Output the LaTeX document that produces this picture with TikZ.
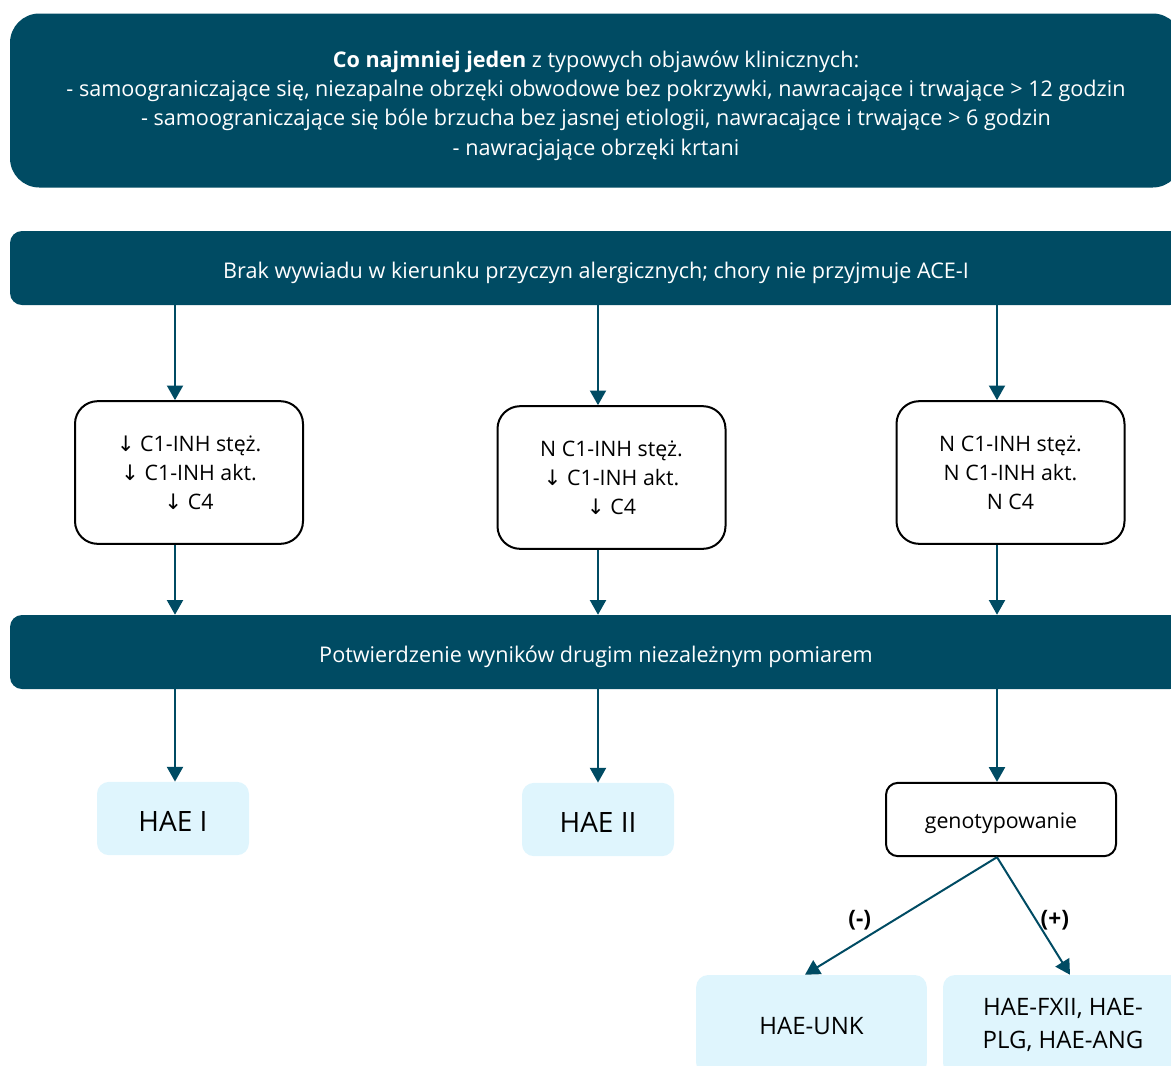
\documentclass[tikz,border=0pt]{standalone}
\usepackage{fontspec}
\setmainfont{Open Sans}
\newfontfamily\arrowfont{DejaVu Sans}
\newcommand\dn{{\arrowfont ↓}}
\usetikzlibrary{arrows.meta}

\definecolor{hteal}{HTML}{004B63}
\definecolor{hlight}{HTML}{DFF5FD}

\begin{document}
\begin{tikzpicture}[x=0.75pt,y=-0.75pt,
    lowered/.style={execute at begin node={\rule{0pt}{#1}}},
    bar/.style={fill=hteal, text=white, rounded corners=9pt, minimum width=879pt,
      minimum height=55.5pt, inner sep=0pt, align=center,
      font=\fontsize{16.2}{21.9}\selectfont},
    labbox/.style={draw=black, line width=1.5pt, rounded corners=17pt, fill=white,
      minimum width=171pt, minimum height=107pt, inner sep=0pt, align=center,
      font=\fontsize{16}{21.9}\selectfont},
    hae/.style={fill=hlight, rounded corners=9pt, minimum width=114pt,
      minimum height=55pt, inner sep=0pt, align=center,
      font=\fontsize{21}{24}\selectfont},
    arr/.style={draw=hteal, line width=1.5pt, -{Triangle[length=11pt,width=12pt]}},
    sign/.style={yshift=-3pt, font=\bfseries\fontsize{17}{20}\selectfont}]
    % frame
    \useasboundingbox (0,0) rectangle (1171,1065);
    \clip (0,0) rectangle (1171,1065);

    % headers
    \node[bar, rounded corners=22pt, minimum height=130.5pt] (objawy) at (596,100.5)
      {\rule{0pt}{20pt}\textbf{Co najmniej jeden} z typowych objawów klinicznych:\\
       - samoograniczające się, niezapalne obrzęki obwodowe bez pokrzywki, nawracające i trwające > 12 godzin\\
       - samoograniczające się bóle brzucha bez jasnej etiologii, nawracające i trwające > 6 godzin\\
       - nawracjające obrzęki krtani};
    \node[bar, lowered=19pt] (wywiad) at (596,268)
      {Brak wywiadu w kierunku przyczyn alergicznych; chory nie przyjmuje ACE-I};
    \node[bar, lowered=19pt] (pomiar) at (596,652)
      {Potwierdzenie wyników drugim niezależnym pomiarem};

    % columns
    \coordinate (k1) at (175,0);
    \coordinate (k2) at (598,0);
    \coordinate (k3) at (997,0);

    % lab results
    \node[labbox, lowered=19pt] (lab1) at (189,472.5)
      {\dn\ C1-INH stęż.\\ \dn\ C1-INH akt.\\ \dn\ C4};
    \node[labbox, lowered=19pt] (lab2) at (611.5,477.5)
      {N C1-INH stęż.\\ \dn\ C1-INH akt.\\ \dn\ C4};
    \node[labbox, lowered=19pt] (lab3) at (1010.5,472.5)
      {N C1-INH stęż.\\ N C1-INH akt.\\ N C4};

    % outcomes
    \node[hae, lowered=18.8pt] (hae1) at (173,818.5) {HAE I};
    \node[hae, lowered=18.8pt] (hae2) at (598,819.5) {HAE II};
    \node[labbox, rounded corners=9pt, minimum width=172.5pt, minimum height=55pt,
      lowered=17pt, font=\fontsize{16}{18}\selectfont] (geno) at (1001,819.5) {genotypowanie};
    \node[hae, lowered=14.3pt, minimum width=173pt, minimum height=75pt,
      font=\fontsize{18}{24.5}\selectfont] (unk) at (811.5,1025) {HAE-UNK};
    \node[hae, lowered=21.8pt, minimum width=180pt, minimum height=75pt,
      font=\fontsize{18}{24.5}\selectfont] (fxii) at (1063,1025) {HAE-FXII, HAE-\\PLG, HAE-ANG};

    % arrows
    \foreach \k/\l in {k1/lab1, k2/lab2, k3/lab3} {
      \draw[arr] (wywiad.south -| \k) -- (\l.north -| \k);
      \draw[arr] (\l.south -| \k) -- (pomiar.north -| \k);
    }
    \draw[arr] (pomiar.south -| k1) -- (hae1.north -| k1);
    \draw[arr] (pomiar.south -| k2) -- (hae2.north -| k2);
    \draw[arr] (pomiar.south -| k3) -- (geno.north -| k3);

    \coordinate (g) at (geno.south -| k3);
    \draw[arr] (g) -- node[sign, xshift=-31pt] {(-)} (unk.north -| 805,0);
    \draw[arr] (g) -- node[sign, xshift=16pt] {(+)} (fxii.north -| 1070,0);
\end{tikzpicture}
\end{document}
